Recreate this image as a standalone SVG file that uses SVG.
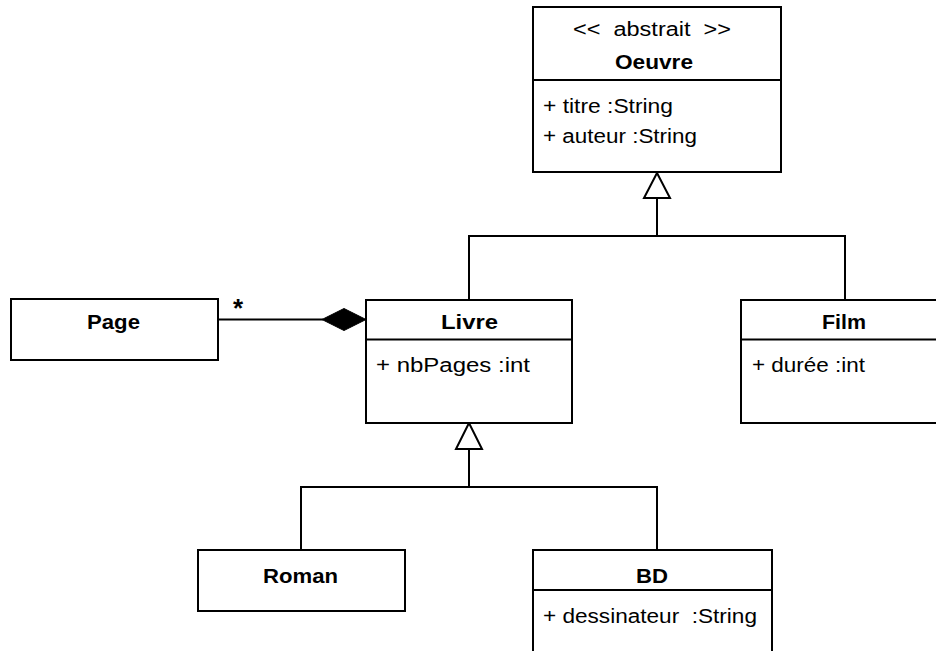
<svg xmlns="http://www.w3.org/2000/svg" width="936" height="651" viewBox="0 0 936 651">
<style>
.box{fill:#fff;stroke:#000;stroke-width:2}
.sep{stroke:#000;stroke-width:2}
.ln{fill:none;stroke:#000;stroke-width:2}
text{font-family:"Liberation Sans",Arial,sans-serif;font-size:20px;fill:#000;white-space:pre}
.t{font-weight:bold}
</style>
<rect width="936" height="651" fill="#fff"/>
<g id="connectors">
<polyline class="ln" points="657,198 657,236"/>
<polyline class="ln" points="469,300 469,236 845,236 845,300"/>
<polygon points="657,173 644,198 670,198" fill="#fff" stroke="#000" stroke-width="2"/>
<polyline class="ln" points="469,449 469,487"/>
<polyline class="ln" points="301,550 301,487 657,487 657,550"/>
<polygon points="469,423 456,449 482,449" fill="#fff" stroke="#000" stroke-width="2"/>
<line class="ln" x1="218" y1="319.5" x2="323" y2="319.5"/>
<polygon points="322,319.5 344,308.5 366,319.5 344,330.5" fill="#000" stroke="#000" stroke-width="1"/>
<text x="233" y="317" style="font-size:26px;font-weight:bold">*</text>
</g>
<g id="oeuvre">
<rect class="box" x="533" y="7" width="248" height="165"/>
<text x="573" y="36" textLength="158" lengthAdjust="spacingAndGlyphs">&lt;&lt;  abstrait  &gt;&gt;</text>
<text x="615" y="69" class="t" textLength="78" lengthAdjust="spacingAndGlyphs">Oeuvre</text>
<line class="sep" x1="533" y1="80" x2="781" y2="80"/>
<text x="543" y="113" textLength="130" lengthAdjust="spacingAndGlyphs">+ titre :String</text>
<text x="543" y="143" textLength="154" lengthAdjust="spacingAndGlyphs">+ auteur :String</text>
</g>
<g id="page">
<rect class="box" x="11" y="299" width="207" height="61"/>
<text x="87" y="329" class="t" textLength="53" lengthAdjust="spacingAndGlyphs">Page</text>
</g>
<g id="livre">
<rect class="box" x="366" y="300" width="206" height="123"/>
<text x="441" y="329" class="t" textLength="57" lengthAdjust="spacingAndGlyphs">Livre</text>
<line class="sep" x1="366" y1="339.5" x2="572" y2="339.5"/>
<text x="376" y="372" textLength="154" lengthAdjust="spacingAndGlyphs">+ nbPages :int</text>
</g>
<g id="film">
<rect class="box" x="741" y="300" width="200" height="123"/>
<text x="822" y="329" class="t" textLength="44" lengthAdjust="spacingAndGlyphs">Film</text>
<line class="sep" x1="741" y1="339.5" x2="941" y2="339.5"/>
<text x="752" y="372" textLength="113" lengthAdjust="spacingAndGlyphs">+ durée :int</text>
</g>
<g id="roman">
<rect class="box" x="198" y="550" width="207" height="61"/>
<text x="263" y="583" class="t" textLength="75" lengthAdjust="spacingAndGlyphs">Roman</text>
</g>
<g id="bd">
<rect class="box" x="533" y="550" width="239" height="110"/>
<text x="636" y="583" class="t" textLength="32" lengthAdjust="spacingAndGlyphs">BD</text>
<line class="sep" x1="533" y1="590" x2="772" y2="590"/>
<text x="543" y="623" textLength="214" lengthAdjust="spacingAndGlyphs">+ dessinateur  :String</text>
</g>
</svg>
